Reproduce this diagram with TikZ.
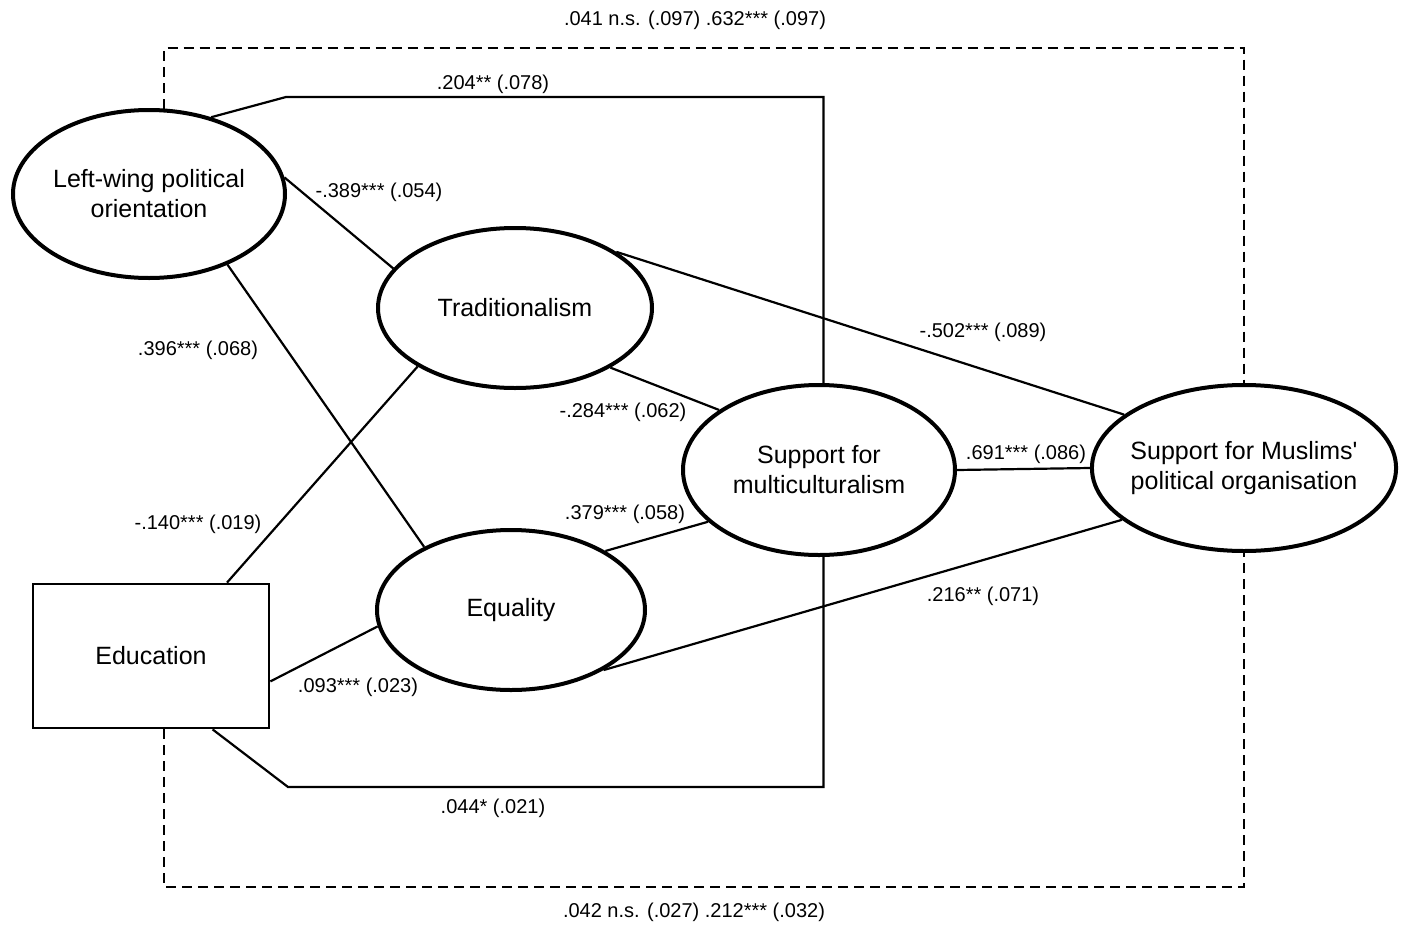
\documentclass[tikz,border=0pt]{standalone}
\usepackage{fontspec}
\setmainfont{Liberation Sans}
\usetikzlibrary{shapes.geometric}
\begin{document}
\begin{tikzpicture}[x=1pt,y=-1pt,
    latent/.style={ellipse,draw,line width=4pt,inner sep=0pt,align=center,
      font=\fontsize{25}{30}\selectfont},
    observed/.style={rectangle,draw,line width=2.8pt,minimum width=236pt,minimum height=144pt,
      font=\fontsize{25}{30}\selectfont},
    effect/.style={line width=2.2pt},
    covpath/.style={line width=2.8pt,dash pattern=on 10pt off 6pt},
    coef/.style={font=\fontsize{20}{24}\selectfont,inner sep=0pt}]
  \useasboundingbox (0,0) rectangle (1417,937);
  % variables
  \node[latent,minimum width=272pt,minimum height=168pt] (lw) at (149,194) {Left-wing political\\orientation};
  \node[latent,minimum width=274pt,minimum height=160pt] (trad) at (515,308) {Traditionalism};
  \node[latent,minimum width=268pt,minimum height=160pt] (eq) at (511,610) {Equality};
  \node[latent,minimum width=272pt,minimum height=170pt] (mc) at (819,470) {Support for\\multiculturalism};
  \node[latent,inner xsep=-6pt,minimum width=302pt,minimum height=166pt] (mus) at (1244,468) {Support for Muslims\textquotesingle\\political organisation};
  \node[observed] (edu) at (151,656) {Education};
  \coordinate (lwbend) at (286,97);
  \coordinate (edubend) at (288,787);
  \coordinate (covtop) at (700,48);
  \coordinate (covbot) at (700,887);
  % paths
  \draw[effect] (lw.51) -- (lwbend) -| (mc.87);
  \draw[effect] (lw.7) -- (trad.162);
  \draw[effect] (lw.-42) -- (eq.144);
  \draw[effect] (edu.44.6) -- (trad.211);
  \draw[effect] (edu.-12.9) -- (eq.187);
  \draw[effect] (edu.-50.7) -- (edubend) -| (mc.-87);
  \draw[effect] (trad.-32) -- (mc.149);
  \draw[effect] (eq.32) -- (mc.205);
  \draw[effect] (trad.29.6) -- (mus.156);
  \draw[effect] (eq.-33.6) -- (mus.203);
  \draw[effect] (mc.east) -- (mus.west);
  % indirect effects
  \draw[covpath] (lw.80.5) |- (covtop) -| (mus.north);
  \draw[covpath] (edu.-80.5) |- (covbot) -| (mus.south);
  % coefficients
  \node[coef] (ctop) at (695,20) {.041 n.s. (.097) .632*** (.097)};
  \node[coef] (c1) at (493,84) {.204** (.078)};
  \node[coef] (c2) at (379,192) {-.389*** (.054)};
  \node[coef] (c3) at (198,350) {.396*** (.068)};
  \node[coef] (c4) at (983,332) {-.502*** (.089)};
  \node[coef] (c5) at (623,412) {-.284*** (.062)};
  \node[coef] (c6) at (1026,454) {.691*** (.086)};
  \node[coef] (c7) at (198,524) {-.140*** (.019)};
  \node[coef] (c8) at (625,514) {.379*** (.058)};
  \node[coef] (c9) at (983,596) {.216** (.071)};
  \node[coef] (c10) at (358,687) {.093*** (.023)};
  \node[coef] (c11) at (493,808) {.044* (.021)};
  \node[coef] (cbot) at (694,912) {.042 n.s. (.027) .212*** (.032)};
\end{tikzpicture}
\end{document}
